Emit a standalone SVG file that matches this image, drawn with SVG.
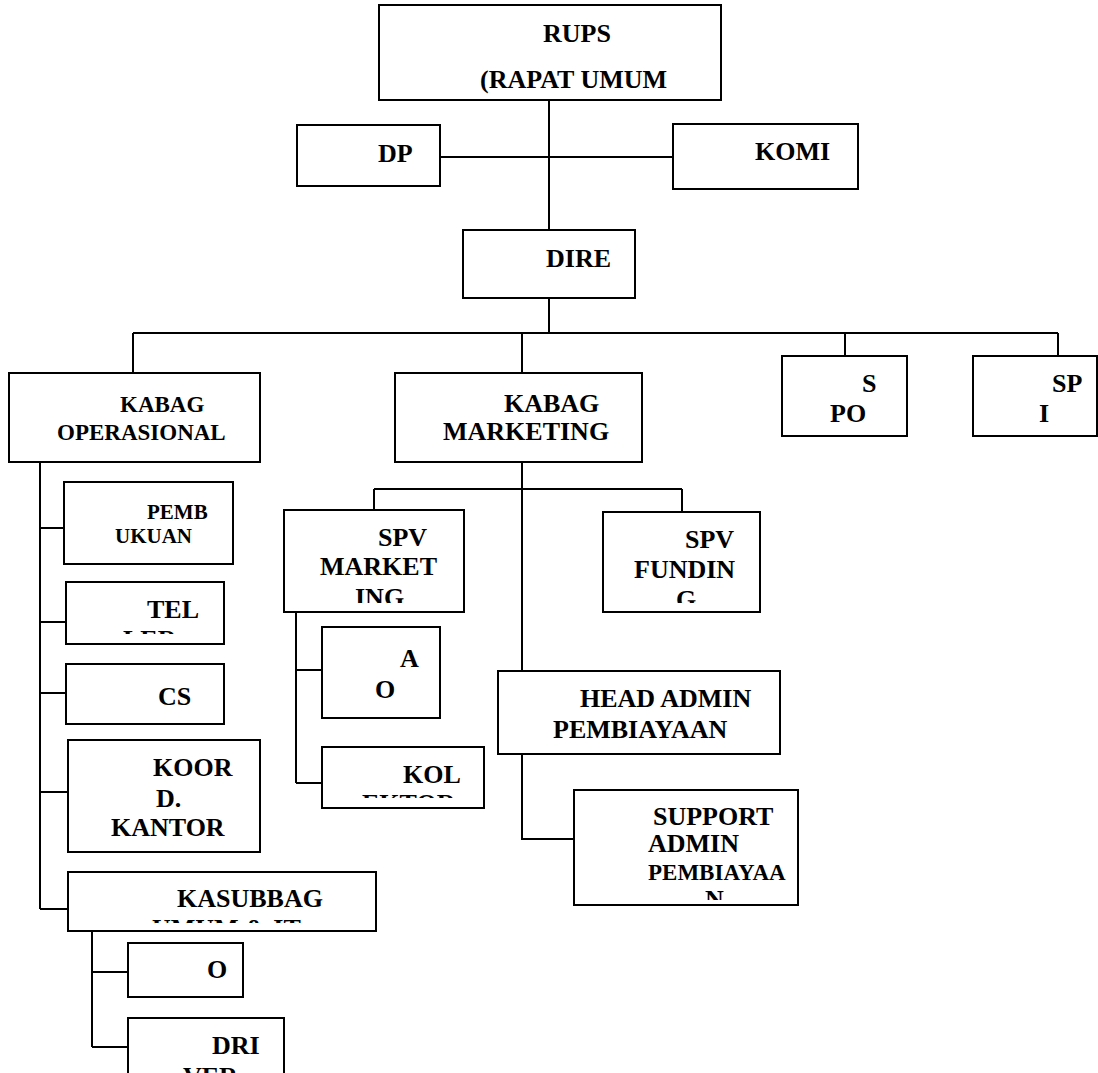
<svg xmlns="http://www.w3.org/2000/svg" width="1098" height="1073" viewBox="0 0 1098 1073">
<style>
.b{fill:#fff;stroke:#000;stroke-width:2}
.c{fill:none;stroke:#000;stroke-width:2}
text{font-family:"Liberation Serif","Times New Roman",serif;font-weight:bold;font-size:26px;fill:#000}
.s23{font-size:23px}.s21{font-size:21px}
</style>
<defs>
<clipPath id="cTel"><rect x="60" y="580" width="170" height="54"/></clipPath>
<clipPath id="cIng"><rect x="280" y="505" width="190" height="98"/></clipPath>
<clipPath id="cG"><rect x="600" y="505" width="165" height="98"/></clipPath>
<clipPath id="cKol"><rect x="320" y="745" width="170" height="53"/></clipPath>
<clipPath id="cKas"><rect x="65" y="870" width="315" height="53"/></clipPath>
<clipPath id="cSup"><rect x="570" y="788" width="230" height="112"/></clipPath>
</defs>
<g id="connectors">
<path class="c" d="M549,100V230M440,157H673M549,298V333M133,333H1058M133,333V373M522,333V373M845,333V356M1058,333V356"/>
<path class="c" d="M40,462V909M40,528H64M40,622H66M40,693H66M40,792H68M40,909H68M92,931V1047M92,972H128M92,1047H128"/>
<path class="c" d="M522,462V671M374,489H682M374,489V510M682,489V512M296,612V783M296,670H322M296,783H322M522,754V839H574"/>
</g>
<g id="rups"><rect class="b" x="379" y="5" width="342" height="95"/><text x="543" y="42">RUPS</text><text x="480" y="88">(RAPAT UMUM</text></g>
<g id="dp"><rect class="b" x="297" y="125" width="143" height="61"/><text x="378" y="162">DP</text></g>
<g id="komi"><rect class="b" x="673" y="124" width="185" height="65"/><text x="755" y="160">KOMI</text></g>
<g id="dire"><rect class="b" x="463" y="230" width="172" height="68"/><text x="546" y="267">DIRE</text></g>
<g id="kabag-op"><rect class="b" x="9" y="373" width="251" height="89"/><text class="s23" x="120" y="412">KABAG</text><text class="s23" x="57" y="440">OPERASIONAL</text></g>
<g id="kabag-mkt"><rect class="b" x="395" y="373" width="247" height="89"/><text x="504" y="412">KABAG</text><text x="443" y="440">MARKETING</text></g>
<g id="spo"><rect class="b" x="782" y="356" width="125" height="80"/><text x="862" y="392">S</text><text x="830" y="422">PO</text></g>
<g id="spi"><rect class="b" x="973" y="356" width="124" height="80"/><text x="1052" y="392">SP</text><text x="1039" y="422">I</text></g>
<g id="pembukuan"><rect class="b" x="64" y="482" width="169" height="82"/><text class="s21" x="147" y="519">PEMB</text><text class="s21" x="115" y="543">UKUAN</text></g>
<g id="teller"><rect class="b" x="66" y="582" width="158" height="62"/><text x="147" y="618">TEL</text><text x="123" y="648" clip-path="url(#cTel)">LER</text></g>
<g id="cs"><rect class="b" x="66" y="664" width="158" height="60"/><text x="158" y="705">CS</text></g>
<g id="koord"><rect class="b" x="68" y="740" width="192" height="112"/><text x="153" y="776">KOOR</text><text x="156" y="807">D.</text><text x="111" y="836">KANTOR</text></g>
<g id="kasubbag"><rect class="b" x="68" y="872" width="308" height="59"/><text x="177" y="907">KASUBBAG</text><text x="152" y="937" clip-path="url(#cKas)">UMUM &amp; IT</text></g>
<g id="o"><rect class="b" x="128" y="943" width="115" height="54"/><text x="207" y="978">O</text></g>
<g id="driver"><rect class="b" x="128" y="1018" width="156" height="80"/><text x="212" y="1054">DRI</text><text x="183" y="1085">VER</text></g>
<g id="spv-mkt"><rect class="b" x="284" y="510" width="180" height="102"/><text x="378" y="546">SPV</text><text x="320" y="575">MARKET</text><text x="355" y="606" clip-path="url(#cIng)">ING</text></g>
<g id="spv-fund"><rect class="b" x="603" y="512" width="157" height="100"/><text x="685" y="548">SPV</text><text x="634" y="578">FUNDIN</text><text x="676" y="608" clip-path="url(#cG)">G</text></g>
<g id="ao"><rect class="b" x="322" y="627" width="118" height="91"/><text x="400" y="667">A</text><text x="375" y="698">O</text></g>
<g id="kolektor"><rect class="b" x="322" y="747" width="162" height="61"/><text x="403" y="783">KOL</text><text x="362" y="812" clip-path="url(#cKol)">EKTOR</text></g>
<g id="head-admin"><rect class="b" x="498" y="671" width="282" height="83"/><text x="580" y="707">HEAD ADMIN</text><text x="553" y="738">PEMBIAYAAN</text></g>
<g id="support"><rect class="b" x="574" y="790" width="224" height="115"/><text x="653" y="825">SUPPORT</text><text x="648" y="852">ADMIN</text><text class="s23" x="648" y="880">PEMBIAYAA</text><text x="705" y="908" clip-path="url(#cSup)">N</text></g>
</svg>
